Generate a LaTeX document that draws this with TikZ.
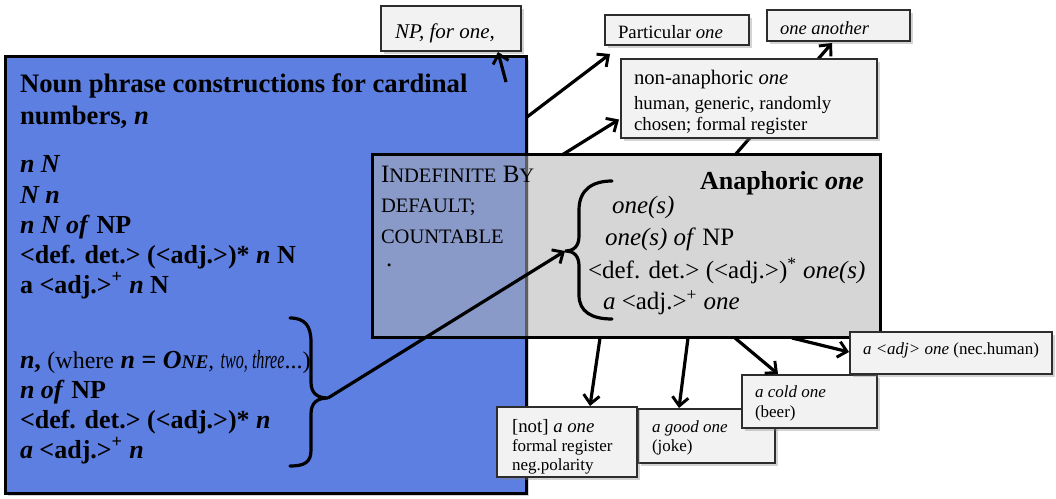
\documentclass[tikz,border=0pt]{standalone}
\usepackage{fontspec}
\setmainfont{Liberation Serif}
\usetikzlibrary{arrows.meta,shadows,calc}
\definecolor{myblue}{RGB}{93,127,225}
\definecolor{boxgray}{RGB}{242,242,242}
\definecolor{edgegray}{RGB}{45,45,45}
\newcommand\fs[1]{\fontsize{#1}{#1}\selectfont}
\begin{document}
\begin{tikzpicture}[x=0.75pt,y=-0.75pt,
  bigbox/.style={draw=black, line width=2.25pt, anchor=north west, inner sep=0pt, outer sep=0pt},
  smallbox/.style={draw=edgegray, line width=1.1pt, fill=boxgray, anchor=north west, inner sep=0pt, outer sep=0pt,
     drop shadow={opacity=0.35, shadow xshift=2pt, shadow yshift=-2pt}},
  t/.style={anchor=base west, inner sep=0pt, outer sep=0pt},
  bt/.style={t, font=\fs{19.5}\bfseries},
  gt/.style={t, font=\fs{18.75}},
  arr/.style={line width=2.4pt, -{Straight Barb[length=6.5pt,width=12pt,line width=2.2pt]}},
  brace/.style={line width=2.4pt, line cap=round}
]
\useasboundingbox (0,0) rectangle (1056,499);

% main boxes
\node[bigbox, fill=myblue, minimum width=390.75pt, minimum height=327pt,
  drop shadow={opacity=0.35, shadow xshift=2pt, shadow yshift=-2pt}] (blue) at (5,57) {};

% blue box text
\node[t, font=\fs{20}\bfseries] (b1) at (20,93) {Noun phrase constructions for cardinal};
\node[t, font=\fs{20}\bfseries] (b2) at (20,125) {numbers, \textit{n}};
\node[bt] (b3) at (20,172) {\textit{n N}};
\node[bt] (b4) at (20,203) {\textit{N n}};
\node[bt] (b5) at (20,233) {\textit{n N of} NP};
\node[bt] (b6) at (20,263) {<def. det.> (<adj.>)* \textit{n} N};
\node[bt] (b7) at (20,293) {a <adj.>\textsuperscript{+} \textit{n} N};
\node[bt] (b8) at (20,368) {\textit{n}, {\mdseries\fs{18}(where} \textit{n} = \textit{O{\fs{14.5}NE}}{\mdseries\fs{17}\itshape,} {\mdseries\scalebox{0.62}[1]{\fs{19.5}\itshape two, three}{\fs{18}...)}}};
\node[bt] (b9) at (20,398) {\textit{n of} NP};
\node[bt] (b10) at (20,428) {<def. det.> (<adj.>)* \textit{n}};
\node[bt] (b11) at (20,458) {\textit{a} <adj.>\textsuperscript{+} \textit{n}};

% right brace in blue box
\coordinate (btip) at (328,398);
\draw[brace] (290,318) .. controls (305,318) and (311,326) .. (311,342) -- (311,382)
  .. controls (311,393) and (317,398) .. (btip)
  .. controls (317,398) and (311,403) .. (311,414) -- (311,450)
  .. controls (311,462) and (305,466) .. (290,466);

% gray box
\node[bigbox, fill=black!30, fill opacity=0.53, minimum width=381pt, minimum height=136.5pt] (gray) at (372,155) {};

\node[gt] (g1) at (381,182) {I{\fs{15.4}NDEFINITE} B{\fs{15.4}Y}};
\node[gt] (g2) at (381,212) {\fs{15.4}DEFAULT;};
\node[gt] (g3) at (381,243) {\fs{15.4}COUNTABLE};
\node[gt] (g4) at (386,266) {.};
\node[t, anchor=base east, font=\fs{19.5}\bfseries] (g5) at (864,190) {Anaphoric \textit{one}};
\node[gt] (g6) at (612,213) {\textit{one(s)}};
\node[gt] (g7) at (605,245) {\textit{one(s) of} NP};
\node[gt] (g8) at (588,278) {<def. det.> (<adj.>)\textsuperscript{*} \textit{one(s)}};
\node[gt] (g9) at (603,309) {\textit{a} <adj.>\textsuperscript{+} \textit{one}};

% left brace in gray box
\coordinate (gtip) at (565,251);
\draw[brace] (612,181) .. controls (592,181) and (579,190) .. (579,210) -- (579,236)
  .. controls (579,246) and (574,251) .. (gtip)
  .. controls (574,251) and (579,256) .. (579,266) -- (579,295)
  .. controls (579,312) and (592,319) .. (612,319);

% arrow from blue brace to gray brace
\draw[arr] (btip) -- (gtip);

% top boxes
\node[smallbox, minimum width=105pt, minimum height=33.75pt] (np) at (381,6) {};
\node[t, font=\fs{15.75}\itshape] (npt) at (395,39) {NP, for one,};
\node[smallbox, minimum width=108pt, minimum height=22.5pt] (part) at (605,15) {};
\node[t, font=\fs{14.1}] (partt) at (618,39) {Particular \textit{one}};
\node[smallbox, minimum width=107.25pt, minimum height=23.25pt] (another) at (767,10) {};
\node[t, font=\fs{13.9}\itshape] (anothert) at (780,35) {one another};

% line to one another (behind non-anaphoric box)
\draw[arr] ($(gray.north west)+(363,0)$) -- ($(another.south west)+(65,2)$);

\node[smallbox, minimum width=192pt, minimum height=59.25pt] (nonana) at (621,59) {};
\node[t, font=\fs{15.5}] (na1) at (634,85) {non-anaphoric \textit{one}};
\node[t, font=\fs{14.1}] (na2) at (634,110) {human, generic, randomly};
\node[t, font=\fs{14.1}] (na3) at (634,131) {chosen; formal register};

% arrows top
\draw[arr] ($(blue.north east)+(-20,25)$) -- ($(np.south east)+(-23,1)$);
\draw[arr] ($(blue.north east)+(1,60)$) -- ($(part.south west)+(5,9)$);
\draw[arr] ($(gray.north west)+(190,0)$) -- ($(nonana.west)+(-2,21)$);

% bottom boxes
\node[smallbox, minimum width=102.75pt, minimum height=40.5pt] (good) at (638,409) {};
\node[t, font=\fs{12.75}\itshape] (go1) at (652,432) {a good one};
\node[t, font=\fs{12.75}] (go2) at (652,451) {(joke)};
\node[smallbox, minimum width=105pt, minimum height=52.5pt] (notb) at (497,407) {};
\node[t, font=\fs{14.1}] (no1) at (512,432) {[not] \textit{a one}};
\node[t, font=\fs{12.75}] (no2) at (512,451) {formal register};
\node[t, font=\fs{12.75}] (no3) at (512,470) {neg.polarity};
\node[smallbox, minimum width=101.25pt, minimum height=39.75pt] (cold) at (742,375) {};
\node[t, font=\fs{12.75}\itshape] (co1) at (755,397) {a cold one};
\node[t, font=\fs{12.75}] (co2) at (755,417) {(beer)};
\node[smallbox, minimum width=151.5pt, minimum height=31.5pt] (nec) at (850,332) {};
\node[t, font=\fs{12.75}] (nect) at (863,354) {\textit{a <adj> one} (nec.human)};

% arrows bottom
\draw[arr] ($(gray.south west)+(228,1)$) -- ($(notb.north west)+(93,-1)$);
\draw[arr] ($(gray.south west)+(316,1)$) -- ($(good.north west)+(41,-1)$);
\draw[arr] ($(gray.south west)+(363,1)$) -- ($(cold.north west)+(36,-1)$);
\draw[arr] ($(gray.south west)+(420,1)$) -- ($(nec.west)+(-1,-1)$);
\end{tikzpicture}
\end{document}
